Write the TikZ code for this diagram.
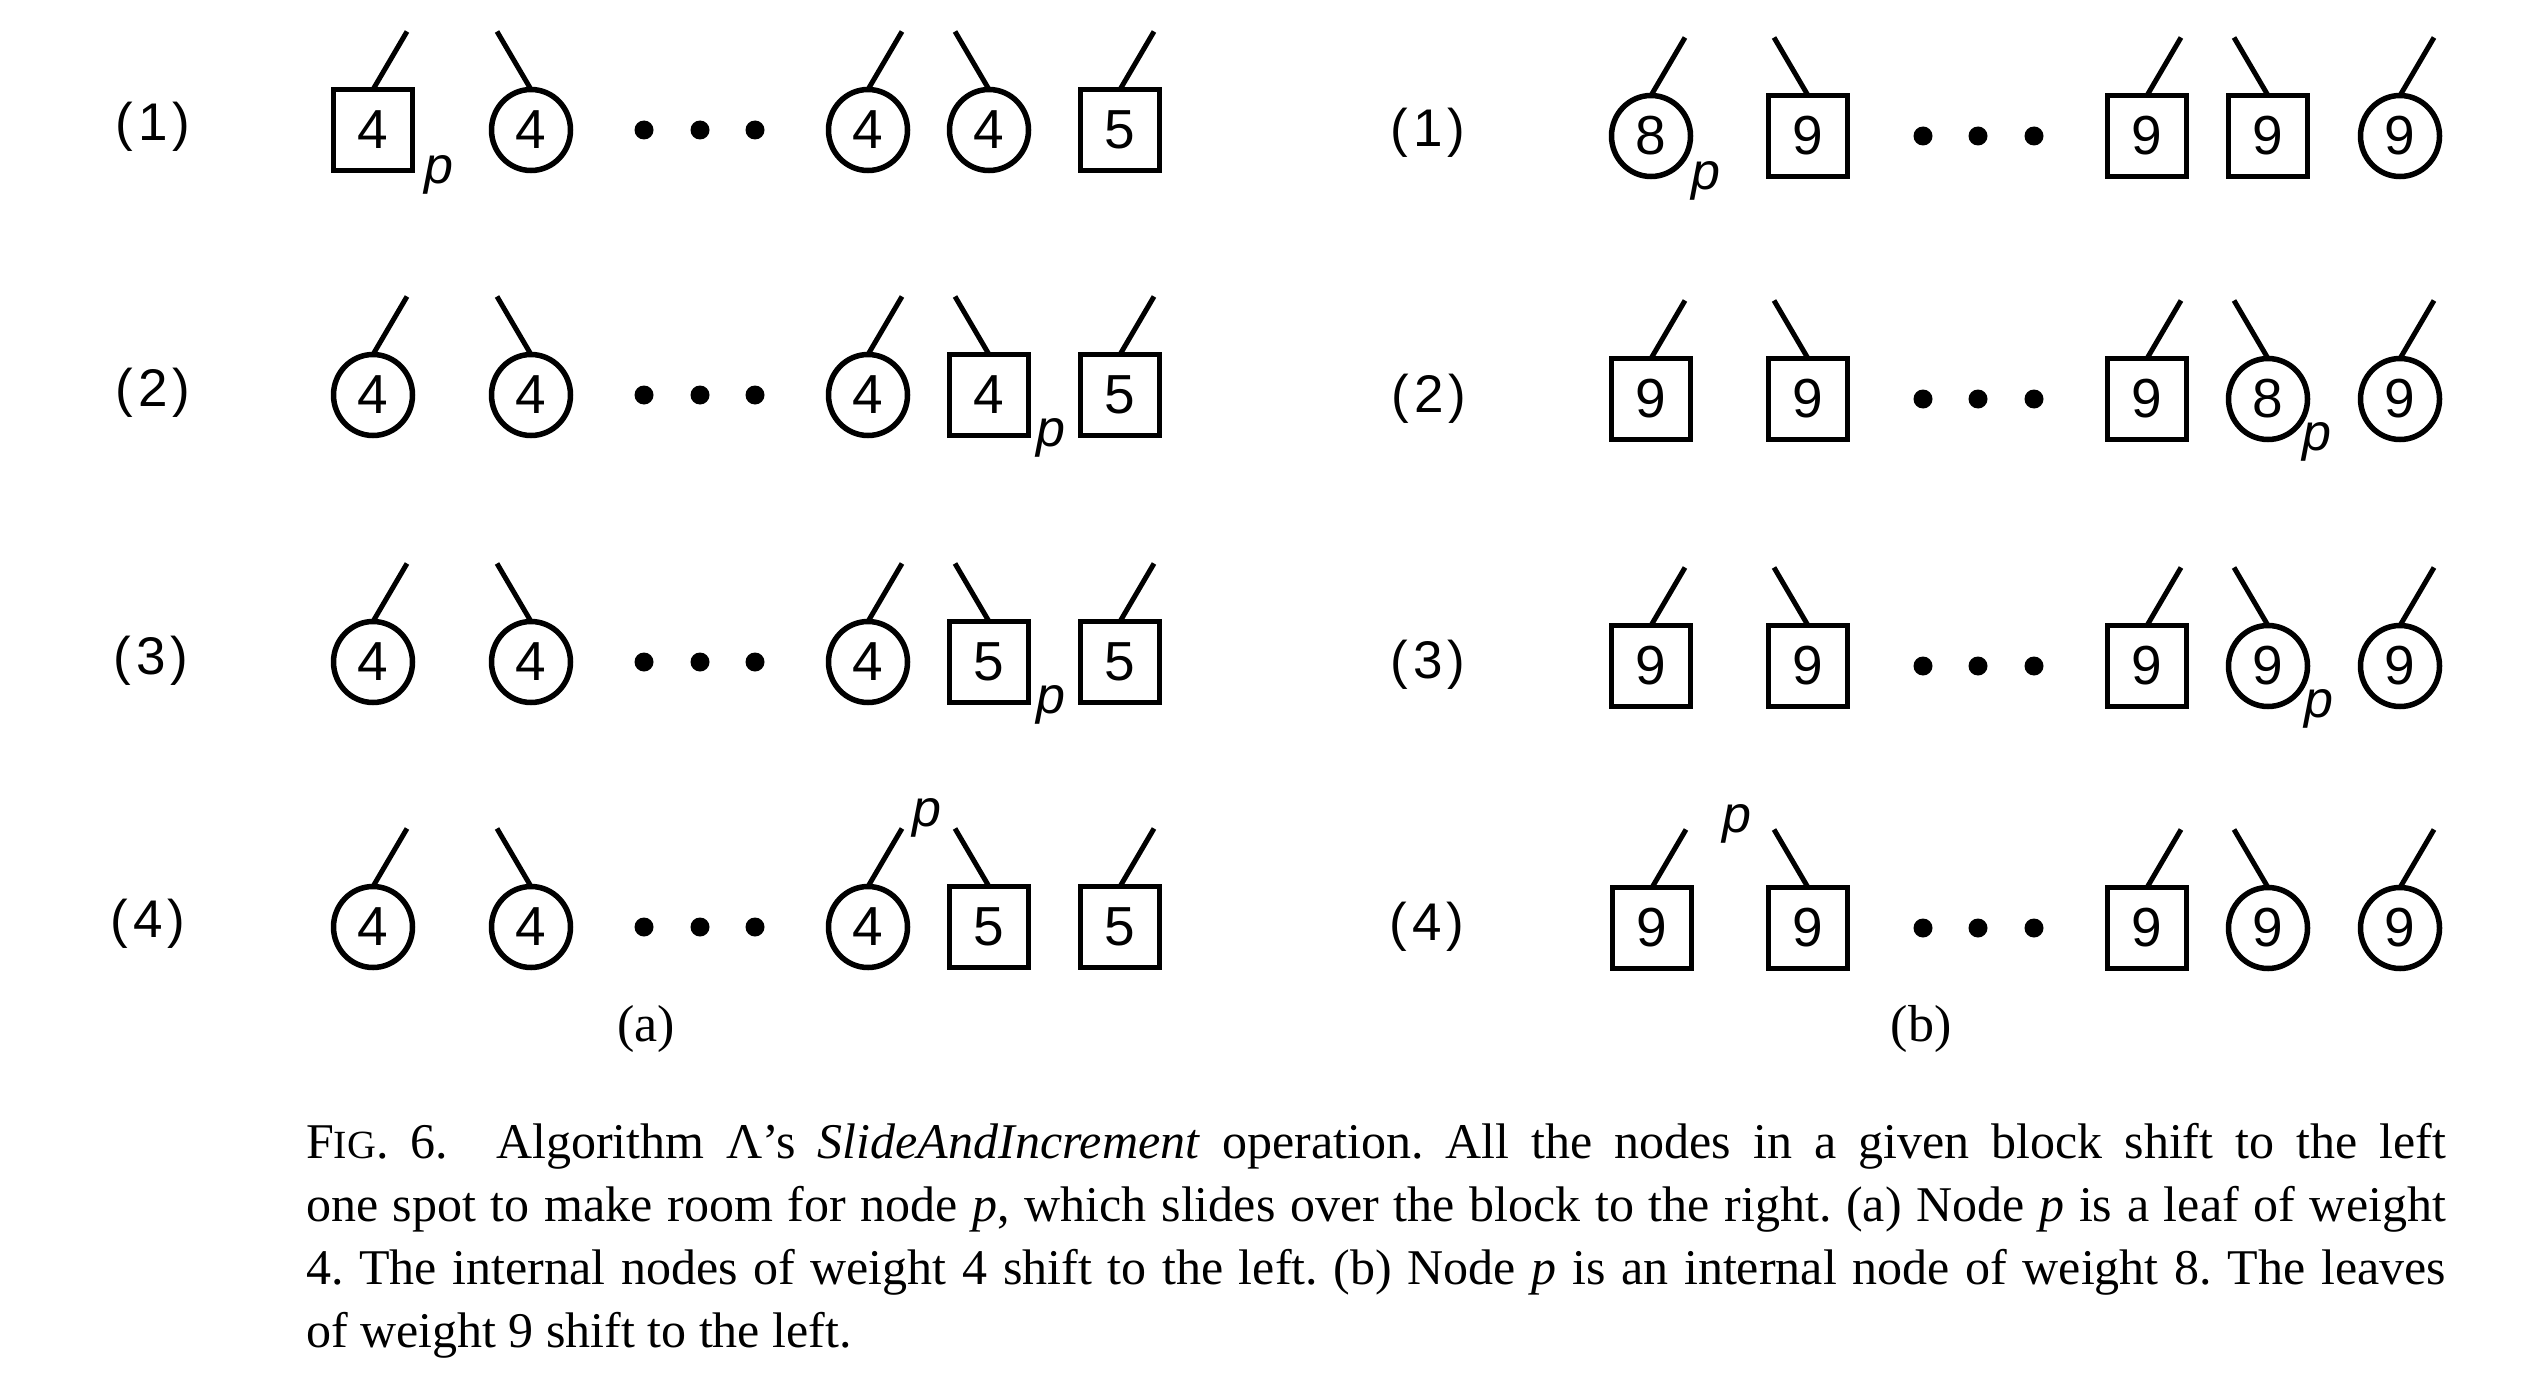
\documentclass[tikz,border=0pt]{standalone}
\usepackage{fontspec}
\setmainfont{Liberation Serif}
\newfontfamily\lsans{Liberation Sans}
\usetikzlibrary{shapes.geometric}
\newcommand\nodefnt{\lsans\fontsize{55}{55}\selectfont}
\newcommand\rowfnt{\lsans\fontsize{53}{53}\selectfont}
\newcommand\pfnt{\lsans\itshape\fontsize{52}{52}\selectfont}
\newcommand\capfnt{\frenchspacing\fontsize{50}{60}\selectfont}
\newcommand\subfnt{\fontsize{52}{52}\selectfont}
\newcommand\rl[1]{(\kern5pt#1\kern5pt)}
\begin{document}
\begin{tikzpicture}[x=1pt,y=-1pt,
  every node/.style={inner sep=0pt, outer sep=0pt},
  sq/.style={draw, line width=5.5pt, minimum width=79pt, minimum height=81pt, font=\nodefnt},
  cir/.style={draw, ellipse, line width=5.5pt, minimum width=79pt, minimum height=81pt, font=\nodefnt},
  dotn/.style={circle, fill=black, minimum size=19pt},
  stem/.style={line width=5pt},
  plab/.style={font=\pfnt},
  rowlab/.style={font=\rowfnt},
  sub/.style={font=\subfnt},
  capline/.style={font=\capfnt, anchor=base west},
]
\useasboundingbox (0,0) rectangle (2525,1386);

% ---------------- (a) ----------------
% row 1
\node[rowlab] (LA1) at (153,127) {\rl{1}};
\node[sq]  (A11) at (373,130) {4};
\node[cir] (A12) at (531,130) {4};
\node[dotn] (DA1a) at (644,130) {};
\node[dotn] (DA1b) at (700,130) {};
\node[dotn] (DA1c) at (755,130) {};
\node[cir] (A13) at (868,130) {4};
\node[cir] (A14) at (989,130) {4};
\node[sq]  (A15) at (1120,130) {5};
\node[plab] (PA1) at (439,175) {p};
% row 2
\node[rowlab] (LA2) at (153,393) {\rl{2}};
\node[cir] (A21) at (373,395) {4};
\node[cir] (A22) at (531,395) {4};
\node[dotn] (DA2a) at (644,395) {};
\node[dotn] (DA2b) at (700,395) {};
\node[dotn] (DA2c) at (755,395) {};
\node[cir] (A23) at (868,395) {4};
\node[sq]  (A24) at (989,395) {4};
\node[sq]  (A25) at (1120,395) {5};
\node[plab] (PA2) at (1051,438) {p};
% row 3
\node[rowlab] (LA3) at (151,661) {\rl{3}};
\node[cir] (A31) at (373,662) {4};
\node[cir] (A32) at (531,662) {4};
\node[dotn] (DA3a) at (644,662) {};
\node[dotn] (DA3b) at (700,662) {};
\node[dotn] (DA3c) at (755,662) {};
\node[cir] (A33) at (868,662) {4};
\node[sq]  (A34) at (989,662) {5};
\node[sq]  (A35) at (1120,662) {5};
\node[plab] (PA3) at (1051,705) {p};
% row 4
\node[rowlab] (LA4) at (148,924) {\rl{4}};
\node[cir] (A41) at (373,927) {4};
\node[cir] (A42) at (531,927) {4};
\node[dotn] (DA4a) at (644,927) {};
\node[dotn] (DA4b) at (700,927) {};
\node[dotn] (DA4c) at (755,927) {};
\node[cir] (A43) at (868,927) {4};
\node[sq]  (A44) at (989,927) {5};
\node[sq]  (A45) at (1120,927) {5};
\node[plab] (PA4) at (927,818) {p};

% ---------------- (b) ----------------
% row 1
\node[rowlab] (LB1) at (1428,133) {\rl{1}};
\node[cir] (B11) at (1651,136) {8};
\node[sq]  (B12) at (1808,136) {9};
\node[dotn] (DB1a) at (1923,136) {};
\node[dotn] (DB1b) at (1978,136) {};
\node[dotn] (DB1c) at (2034,136) {};
\node[sq]  (B13) at (2147,136) {9};
\node[sq]  (B14) at (2268,136) {9};
\node[cir] (B15) at (2400,136) {9};
\node[plab] (PB1) at (1706,181) {p};
% row 2
\node[rowlab] (LB2) at (1429,399) {\rl{2}};
\node[sq]  (B21) at (1651,399) {9};
\node[sq]  (B22) at (1808,399) {9};
\node[dotn] (DB2a) at (1923,399) {};
\node[dotn] (DB2b) at (1978,399) {};
\node[dotn] (DB2c) at (2034,399) {};
\node[sq]  (B23) at (2147,399) {9};
\node[cir] (B24) at (2268,399) {8};
\node[cir] (B25) at (2400,399) {9};
\node[plab] (PB2) at (2317,442) {p};
% row 3
\node[rowlab] (LB3) at (1428,665) {\rl{3}};
\node[sq]  (B31) at (1651,666) {9};
\node[sq]  (B32) at (1808,666) {9};
\node[dotn] (DB3a) at (1923,666) {};
\node[dotn] (DB3b) at (1978,666) {};
\node[dotn] (DB3c) at (2034,666) {};
\node[sq]  (B33) at (2147,666) {9};
\node[cir] (B34) at (2268,666) {9};
\node[cir] (B35) at (2400,666) {9};
\node[plab] (PB3) at (2319,709) {p};
% row 4
\node[rowlab] (LB4) at (1427,927) {\rl{4}};
\node[sq]  (B41) at (1652,928) {9};
\node[sq]  (B42) at (1808,928) {9};
\node[dotn] (DB4a) at (1923,928) {};
\node[dotn] (DB4b) at (1978,928) {};
\node[dotn] (DB4c) at (2034,928) {};
\node[sq]  (B43) at (2147,928) {9};
\node[cir] (B44) at (2268,928) {9};
\node[cir] (B45) at (2400,928) {9};
\node[plab] (PB4) at (1737,824) {p};

% stems
\foreach \g in {A,B}{
  \foreach \r in {1,2,3,4}{
    \draw[stem] (\g\r1.north) -- ++(34,-58) coordinate (T\g\r1);
    \draw[stem] (\g\r2.north) -- ++(-34,-58) coordinate (T\g\r2);
    \draw[stem] (\g\r3.north) -- ++(34,-58) coordinate (T\g\r3);
    \draw[stem] (\g\r4.north) -- ++(-34,-58) coordinate (T\g\r4);
    \draw[stem] (\g\r5.north) -- ++(34,-58) coordinate (T\g\r5);
  }
}

% sub captions
\node[sub] (SA) at (646,1029) {(a)};
\node[sub] (SB) at (1921,1029) {(b)};

% caption
\node[capline] (C1) at (306,1158) {\hbox to 2140pt{F{\fontsize{40}{40}\selectfont IG}. 6.\hspace{26pt} Algorithm Λ’s \textit{SlideAndIncrement} operation. All the nodes in a given block shift to the left}};
\node[capline] (C2) at (306,1221) {\hbox to 2140pt{one spot to make room for node \textit{p}, which slides over the block to the right. (a) Node \textit{p} is a leaf of weight}};
\node[capline] (C3) at (306,1284) {\hbox to 2140pt{4. The internal nodes of weight 4 shift to the left. (b) Node \textit{p} is an internal node of weight 8. The leaves}};
\node[capline] (C4) at (306,1347) {of weight 9 shift to the left.};
\end{tikzpicture}
\end{document}
